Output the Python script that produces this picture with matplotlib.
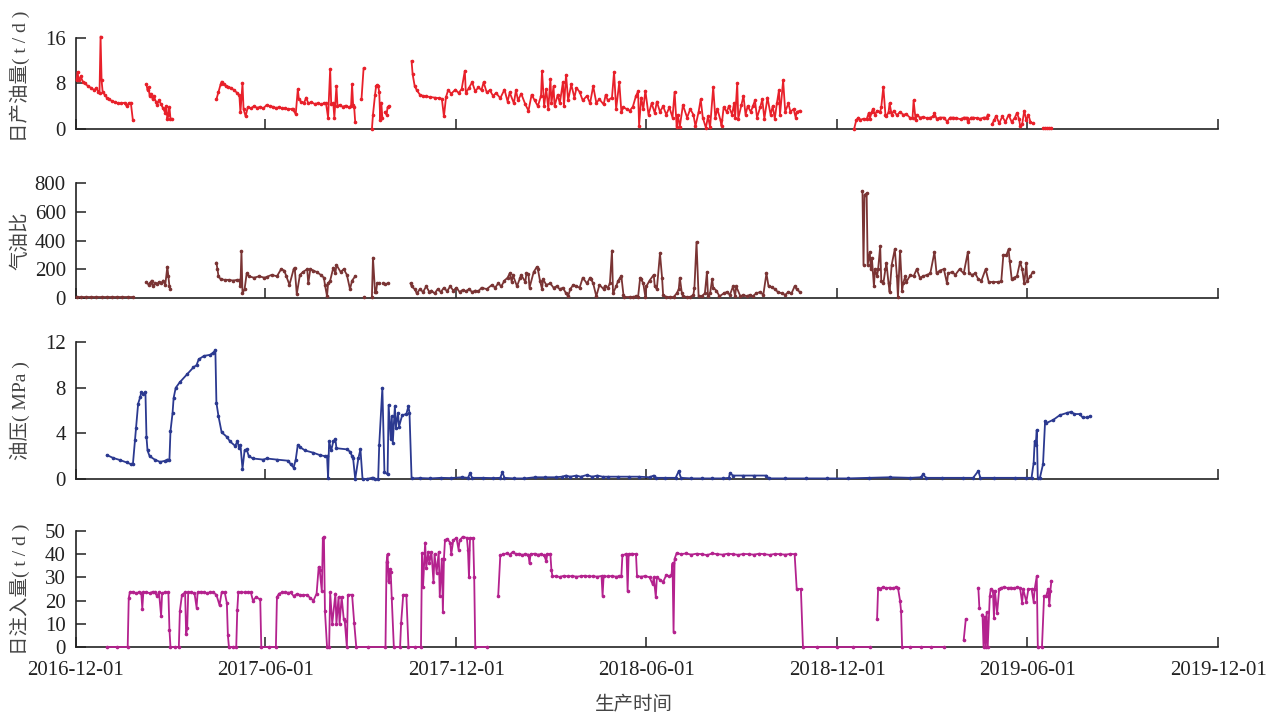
import numpy as np
import matplotlib
matplotlib.use("Agg")
import matplotlib.pyplot as plt
import matplotlib.dates as mdates

nan = np.nan

# day offsets from 2016-12-01, nan = gap in record
oil_day = [1, 2, 3, 5, 7, 9, 12, 15, 18, 20, 22, 23, 24, 25, 26, 28, 30, 32, 35, 38, 41, 44, 47, 49, 51, 53, 55, nan,
           68, 69, 70, 71, 72, 74, 75, 77, 78, 80, 82, 84, 86, 87, 88, 89, 90, 91, 92, nan,
           135, 137, 139, 140, 142, 144, 146, 149, 152, 155, 157, 158, 159, 160, 161, 163, 165, 168, 171, 174, 177, 180,
           183, 186, 189, 192, 195, 198, 201, 204, 207, 208, 211, 213, 214, 216, 219, 221, 223, 226, 229, 232, 235, 238,
           240, 242, 244, 245, 247, 248, 250, 251, 253, 256, 259, 262, 264, 265, 266, 267, 268, nan,
           274, 276, nan,
           284, 285, 287, 288, 289, 290, 291, 292, 293, 294, nan,
           297, 298, 299, 300, nan,
           322, 323, 325, 327, 330, 333, 336, 340, 344, 348, 351, 353, 355, 357, 360, 364, 367, 370, 373, 374, 377,
           380, 383, 386, 389, 391, 394, 397, 400, 403, 407, 411, 414, 416, 420, 422, 424, 427, 431, 434, 437, 440,
           443, 446, 447, 449, 451, 453, 455, 456, 458, 459, 462, 464, 467, 468, 470, 472, 475, 478, 480, 483, 486,
           490, 493, 496, 499, 502, 506, 508, 510, 514, 516, 518, 521, 523, 525, 528, 531, 534, 537, 539, 540, 542,
           544, 546, 549, 552, 555, 557, 560, 563, 566, 569, 572, 574, 576, 577, 579, 582, 586, 589, 592, 594, 597,
           599, 601, 604, 606, 608, 611, 613, 615, 618, 619, 621, 624, 626, 629, 631, 632, 634, 635, 638, 640, 642,
           644, 647, 649, 651, 653, 656, 658, 660, 663, 666, 668, 670, 672, 674, 675, 678, 680, 683, 685, 688, 690,
           691, 694, nan,
           746, 748, 750, 752, 755, 758, 760, 761, 763, 764, 766, 768, 771, 772, 774, 776, 777, 779, 780, 782, 784,
           787, 790, 793, 796, 800, 802, 803, 805, 806, 809, 812, 816, 819, 822, 823, 825, 828, 832, 835, 838, 841,
           844, 848, 851, 854, 855, 858, 860, 864, 867, 870, 873, 874, nan,
           878, 880, 882, 885, 888, 891, 894, 897, 900, 902, 904, 905, 907, 909, 911, 913, 915, 917, nan,
           927, 929, 931, 933, 935]
oil_val = [8.6, 10.0, 8.5, 9.2, 8.3, 8.0, 7.5, 7.2, 6.8, 7.2, 6.5, 6.3, 16.2, 8.5, 6.5, 6.0, 5.5, 5.2, 4.9, 4.7, 4.5, 4.5, 4.6, 4.0, 4.5, 4.6, 1.5, nan,
           7.8, 6.8, 7.3, 5.8, 6.2, 5.2, 5.8, 4.8, 4.2, 5.0, 4.3, 3.6, 2.8, 4.0, 1.8, 2.5, 3.8, 1.8, 1.8, nan,
           5.2, 6.5, 7.8, 8.3, 7.8, 7.6, 7.4, 7.2, 6.8, 6.3, 5.9, 2.9, 5.5, 8.0, 3.5, 2.2, 3.8, 3.6, 4.0, 3.7, 3.9, 3.6,
           4.2, 4.0, 3.9, 3.7, 3.8, 3.6, 3.6, 3.5, 3.5, 3.5, 2.6, 7.0, 5.2, 4.8, 4.6, 5.5, 4.5, 4.7, 4.4, 4.5, 4.3, 4.5,
           4.5, 2.0, 10.5, 4.3, 4.5, 2.0, 7.5, 4.0, 4.2, 3.9, 4.1, 3.8, 4.0, 7.8, 4.2, 3.8, 1.2, nan,
           5.2, 10.6, nan,
           0.0, 2.5, 6.0, 7.5, 7.7, 7.5, 6.5, 1.5, 4.6, 2.0, nan,
           3.0, 2.5, 3.8, 4.0, nan,
           11.9, 9.6, 7.5, 6.8, 6.0, 5.8, 5.7, 5.6, 5.5, 5.4, 5.3, 2.2, 5.6, 6.8, 6.2, 6.9, 6.3, 7.0, 10.2, 6.3, 7.2,
           8.2, 6.6, 7.3, 6.8, 8.2, 6.4, 6.8, 5.8, 6.3, 5.4, 6.9, 4.8, 6.4, 4.5, 6.8, 5.0, 6.2, 4.3, 3.2, 6.0, 5.0,
           4.0, 5.8, 10.2, 4.0, 7.0, 3.5, 8.8, 4.5, 7.5, 4.0, 6.0, 4.5, 8.2, 4.0, 9.5, 5.0, 7.8, 5.5, 7.2, 6.5, 5.0,
           5.8, 4.5, 7.5, 4.6, 5.2, 4.3, 6.0, 5.0, 5.5, 10.0, 3.5, 8.2, 3.0, 3.8, 3.5, 3.2, 3.9, 5.8, 6.6, 0.6, 5.5,
           3.5, 6.7, 2.5, 4.5, 2.8, 4.8, 3.0, 4.0, 2.5, 3.8, 2.0, 6.5, 0.4, 2.5, 0.4, 4.2, 2.0, 3.5, 2.5, 0.5, 3.0,
           5.2, 2.0, 0.2, 2.2, 0.3, 7.3, 2.0, 3.5, 1.5, 0.5, 3.8, 3.0, 4.0, 2.5, 4.5, 2.0, 8.0, 1.8, 4.2, 5.8, 2.5,
           4.0, 3.0, 4.0, 5.0, 2.0, 3.8, 5.2, 1.8, 5.5, 2.5, 4.0, 1.8, 4.5, 6.8, 2.5, 8.5, 3.0, 4.5, 3.0, 3.5, 2.0,
           3.0, 3.2, nan,
           0.0, 1.5, 2.0, 1.6, 1.8, 1.7, 2.8, 1.8, 3.0, 3.5, 2.5, 3.2, 3.0, 3.8, 7.4, 2.5, 2.2, 3.0, 4.5, 2.5, 3.2,
           2.4, 3.0, 2.5, 2.6, 1.9, 2.0, 5.0, 1.5, 2.5, 2.0, 2.1, 1.9, 2.0, 2.2, 2.8, 1.8, 2.0, 2.0, 1.3, 2.0, 2.0,
           1.9, 1.7, 2.0, 2.0, 1.2, 2.0, 2.0, 1.9, 1.8, 2.0, 2.0, 2.5, nan,
           0.8, 1.5, 2.3, 1.0, 2.2, 1.2, 2.5, 1.2, 2.0, 2.8, 1.8, 0.6, 0.8, 3.2, 1.5, 2.5, 1.2, 1.0, nan,
           0.1, 0.1, 0.1, 0.1, 0.1]

gor_day = [1, 5, 10, 15, 20, 25, 30, 35, 40, 45, 50, 55, nan,
           68, 70, 71, 73, 74, 76, 78, 80, 82, 84, 86, 88, 89, 90, 91, nan,
           135, 136, 137, 139, 143, 147, 151, 155, 157, 158, 159, 160, 162, 164, 166, 171, 176, 181, 183, 188, 193,
           197, 200, 202, 205, 209, 210, 212, 215, 218, 222, 223, 225, 228, 231, 235, 238, 239, 241, 242, 244, 247,
           249, 250, 254, 257, 260, 263, 265, 268, nan,
           276, nan,
           284, 285, 287, 288, 289, 291, nan,
           295, 297, 299, nan,
           321, 322, 325, 327, 330, 333, 336, 339, 341, 344, 347, 350, 353, 356, 359, 362, 365, 368, 371, 374, 377,
           380, 383, 386, 389, 394, 399, 402, 405, 408, 411, 414, 416, 418, 419, 423, 426, 427, 431, 432, 434, 435,
           439, 442, 443, 445, 447, 448, 451, 455, 458, 461, 464, 467, 470, 472, 474, 477, 480, 483, 486, 490, 493,
           494, 496, 499, 502, 506, 507, 510, 512, 514, 515, 518, 520, 522, 523, 525, 526, 531, 534, 537, 539, 541,
           542, 544, 546, 547, 550, 554, 555, 557, 560, 562, 563, 566, 570, 573, 576, 578, 579, 581, 582, 586, 589,
           592, 593, 595, 597, 600, 603, 605, 606, 608, 610, 611, 614, 617, 621, 624, 627, 630, 632, 633, 637, 640,
           643, 646, 649, 652, 656, 659, 662, 664, 667, 670, 673, 677, 680, 683, 686, 689, 691, 694, nan,
           754, 755, 756, 758, 759, 761, 762, 763, 765, 766, 768, 769, 771, 772, 774, 776, 777, 779, 780, 782, 785,
           787, 788, 790, 792, 793, 795, 796, 800, 803, 806, 809, 812, 816, 819, 823, 825, 828, 832, 835, 836, 840,
           843, 847, 851, 855, 856, 859, 862, 865, 868, 872, 875, 879, 884, 887, 889, 892, 894, 895, 897, 899, 902,
           905, 907, 909, 911, 912, 915, 917]
gor_val = [5, 5, 5, 5, 5, 5, 5, 5, 5, 5, 5, 5, nan,
           110, 90, 100, 120, 80, 100, 95, 110, 100, 120, 90, 217, 150, 80, 60, nan,
           245, 200, 150, 130, 125, 125, 120, 125, 125, 80, 325, 30, 60, 170, 150, 140, 150, 140, 145, 160, 150,
           200, 190, 150, 90, 200, 210, 25, 160, 180, 200, 100, 200, 190, 180, 160, 140, 90, 10, 100, 120, 210,
           170, 230, 180, 200, 160, 60, 120, 150, nan,
           5, nan,
           5, 280, 40, 40, 100, 100, nan,
           100, 95, 100, nan,
           100, 80, 60, 30, 60, 40, 80, 40, 50, 30, 60, 40, 70, 45, 80, 50, 70, 40, 55, 45, 60,
           40, 50, 45, 70, 60, 90, 70, 100, 80, 120, 140, 170, 110, 160, 80, 140, 160, 110, 170, 165, 70,
           180, 215, 200, 120, 60, 130, 90, 100, 70, 80, 60, 70, 30, 10, 60, 90, 80, 70, 140, 100, 140,
           130, 100, 10, 90, 60, 80, 70, 100, 330, 30, 80, 120, 140, 150, 20, 5, 5, 5, 10, 5, 140,
           130, 100, 5, 80, 120, 160, 80, 60, 310, 140, 20, 5, 5, 5, 30, 60, 140, 30, 10, 5, 5,
           20, 70, 390, 10, 10, 30, 180, 10, 30, 130, 70, 50, 10, 30, 40, 20, 80, 10, 80, 10, 20,
           10, 20, 10, 30, 40, 20, 170, 80, 75, 60, 40, 30, 20, 40, 30, 80, 60, 40, nan,
           745, 230, 720, 730, 230, 320, 200, 280, 80, 200, 150, 200, 360, 120, 100, 200, 240, 100, 40, 230, 340,
           150, 5, 330, 50, 100, 150, 110, 160, 150, 200, 140, 150, 160, 170, 320, 170, 190, 200, 100, 170, 180,
           160, 200, 170, 320, 170, 160, 170, 130, 120, 200, 110, 110, 110, 115, 300, 300, 340, 260, 130, 140, 150,
           250, 200, 100, 240, 120, 150, 180]

pres_day = [30, 36, 43, 49, 53, 55, 57, 58, 60, 62, 63, 65, 67, 68, 69, 71, 76, 81, 86, 88, 90, 91, 93, 94, 96,
            100, 107, 113, 116, 118, 123, 129, 132, 134, 135, 137, 140, 145, 148, 153, 155, 157, 158, 160, 162,
            164, 166, 170, 180, 183, 193, 204, 206, 209, 211, 213, 215, 220, 228, 234, 239, 241, 242, 243, 245,
            247, 249, 250, 260, 263, 265, 266, 268, 271, 273, 275, 279, 284, 285, 287, 290, 291, 294, 296, 299,
            300, 302, 303, 304, 306, 307, 309, 310, 313, 317, 319, 320, 322, 330, 340, 350, 360, 370, 376, 378,
            380, 390, 400, 407, 409, 411, 420, 430, 440, 450, 460, 466, 470, 474, 480, 484, 490, 495, 500, 505,
            510, 520, 530, 540, 550, 554, 556, 565, 575, 578, 580, 590, 600, 610, 620, 626, 627, 630, 640, 650,
            662, 664, 680, 700, 720, 740, 760, 780, 800, 810, 812, 815, 830, 850, 860, 865, 867, 880, 900, 911,
            916, 918, 919, 920, 921, 922, 924, 927, 929, 930, 937, 943, 950, 954, 957, 962, 965, 969, 972]
pres_val = [2.1, 1.85, 1.65, 1.45, 1.3, 1.3, 3.4, 4.5, 6.6, 7.2, 7.6, 7.5, 7.6, 3.7, 2.5, 2.0, 1.7, 1.5, 1.6, 1.7,
            1.7, 4.2, 5.8, 7.1, 8.0, 8.5, 9.2, 9.8, 10.0, 10.5, 10.8, 10.9, 11.1, 11.3, 6.7, 5.5, 4.1, 3.7, 3.3,
            2.9, 3.3, 2.7, 3.0, 0.9, 2.5, 2.6, 2.0, 1.8, 1.7, 1.8, 1.7, 1.6, 1.3, 1.0, 1.7, 3.0, 2.8, 2.5, 2.3,
            2.1, 2.0, 2.0, 0.1, 3.3, 2.5, 3.3, 3.5, 2.7, 2.6, 2.4, 2.0, 1.8, 0.0, 1.8, 2.6, 0.0, 0.0, 0.1, 0.1,
            0.0, 0.0, 3.0, 8.0, 0.6, 0.4, 6.5, 3.5, 5.5, 3.2, 6.4, 4.5, 5.8, 4.6, 5.6, 5.7, 6.4, 5.8, 0.05, 0.08,
            0.05, 0.1, 0.08, 0.15, 0.1, 0.5, 0.1, 0.1, 0.08, 0.1, 0.6, 0.1, 0.05, 0.05, 0.15, 0.15, 0.15, 0.2,
            0.3, 0.2, 0.3, 0.2, 0.35, 0.2, 0.3, 0.2, 0.2, 0.2, 0.2, 0.2, 0.15, 0.3, 0.1, 0.1, 0.1, 0.7, 0.1, 0.05,
            0.05, 0.05, 0.05, 0.1, 0.5, 0.3, 0.3, 0.3, 0.3, 0.05, 0.05, 0.05, 0.05, 0.05, 0.1, 0.15, 0.1, 0.15,
            0.4, 0.1, 0.1, 0.1, 0.1, 0.7, 0.1, 0.1, 0.1, 0.1, 0.1, 1.4, 3.3, 3.0, 4.3, 0.1, 0.1, 1.3, 5.1, 4.9,
            5.2, 5.6, 5.8, 5.9, 5.7, 5.7, 5.4, 5.4, 5.5]

inj_day = [30, 40, 50, 51, 52, 55, 58, 61, 63, 64, 65, 68, 71, 74, 76, 78, 80, 82, 83, 86, 89, 90, 91, 95, 99,
           100, 102, 105, 106, 107, 108, 111, 114, 116, 117, 120, 123, 126, 129, 132, 135, 138, 140, 143, 145,
           146, 147, 151, 154, 155, 156, 159, 162, 165, 168, 170, 173, 177, 178, 185, 192, 193, 195, 198, 201,
           204, 206, 209, 212, 215, 218, 222, 225, 228, 231, 233, 234, 236, 237, 238, 239, 241, 243, 244, 246,
           249, 250, 252, 253, 255, 257, 258, 260, 261, 265, 267, 269, 280, 297, 298, 299, 300, 301, 302, 303,
           305, 311, 312, 314, 317, 319, 325, 331, 332, 333, 335, 336, 338, 339, 341, 343, 344, 346, 348, 349,
           351, 352, 353, 354, 356, 359, 360, 362, 365, 367, 368, 371, 375, 376, 377, 378, 381, 382, 383, 394, nan,
           405, 407, 410, 413, 416, 419, 422, 425, 428, 431, 434, 435, 436, 440, 443, 446, 449, 451, 452, 455,
           456, 457, 460, 464, 468, 472, 476, 480, 484, 488, 492, 496, 500, 504, 505, 506, 510, 514, 518, 521,
           523, 524, 527, 528, 529, 530, 533, 537, 538, 542, 546, 550, 553, 554, 556, 557, 560, 563, 566, 569,
           571, 572, 573, 574, 576, 580, 585, 590, 595, 600, 605, 610, 615, 620, 625, 630, 635, 640, 645, 650,
           655, 660, 665, 670, 675, 680, 685, 689, 691, 695, 697, 710, 730, 745, 761, nan,
           768, 769, 771, 774, 777, 780, 783, 786, 788, 790, 791, 792, 800, 810, 820, 832, nan,
           851, 853, nan,
           865, 866, nan,
           869, 870, 871, 872, 873, 874, 876, 877, 879, 880, 881, 883, 885, 887, 890, 893, 896, 899, 902, 905,
           907, 908, 911, 913, 916, 918, 919, 921, 922, 926, 928, 930, 932, 933, 934, 935]
inj_val = [0, 0, 0, 21, 23.5, 23.8, 23.2, 23.6, 23.4, 16.5, 23.5, 23.6, 23.2, 23.8, 23.5, 22, 23.5, 13.5, 23.2,
           23.6, 23.5, 7.5, 0, 0, 0, 15.5, 22.5, 23.5, 5.5, 8.0, 23.5, 23.6, 23.2, 17, 23.5, 23.8, 23.5, 23.2,
           23.6, 23.5, 22.5, 18, 23.5, 23.5, 19, 5, 0, 0, 0, 16, 23.5, 23.7, 23.5, 23.6, 23.5, 20, 21.5, 20.5, 0,
           0, 0, 21.5, 23.0, 23.5, 23.5, 23.4, 23.5, 22.0, 22.8, 22.5, 22.3, 22.5, 21, 20, 23, 34.5, 33, 24, 47,
           47.5, 15.5, 0, 0, 23.5, 10, 23.0, 10, 21.5, 10, 21.5, 12, 11, 0, 22.5, 22.5, 10.5, 0, 0, 0, 36.5, 40,
           28, 33.5, 32.5, 21, 0, 0, 10.5, 22.5, 22.5, 0, 0, 0, 40.5, 26, 45, 34, 41, 36, 41, 28, 40, 32, 41, 22,
           38, 15, 38, 46, 46.5, 45, 40, 46, 47, 42, 46, 47.5, 47, 42, 30, 47, 47, 30, 0, 0, nan,
           22, 39.5, 40, 40.3, 39.8, 41, 40, 40.2, 39.7, 40, 39.8, 36, 40, 40.2, 39.8, 40, 39.5, 37, 40, 40,
           33, 30.5, 30.5, 30.2, 30.7, 30.4, 30.6, 30.3, 30.5, 30.7, 30.4, 30.5, 30.3, 30.6, 22, 30.5, 30.4,
           30.6, 30.3, 30.5, 30.5, 39.5, 40, 39.8, 24, 40, 40.2, 40, 30.5, 30.3, 30.6, 30, 27, 30, 21.5, 30, 29,
           28, 31, 30.5, 31, 36, 6.5, 38, 40.5, 40, 40.3, 39.8, 40.2, 40, 39.6, 40.3, 40, 39.8, 40.2, 40, 39.7,
           40.1, 40, 39.8, 40.2, 40, 39.7, 40.1, 40, 39.8, 40.1, 40, 25, 25, 0, 0, 0, 0, 0, nan,
           12, 25.5, 25.2, 25.8, 25.3, 25.6, 25.4, 25.7, 25.5, 20, 15.5, 0, 0, 0, 0, 0, nan,
           3, 12, nan,
           25.5, 17, nan,
           14, 0, 13, 0, 15, 0, 22, 25, 24, 12.5, 24, 14.5, 25, 25.5, 25.8, 25.4, 25.6, 25.3, 25.7, 25.5,
           19, 25, 19.5, 25, 25, 19.5, 25, 30.5, 0, 0, 22, 22, 25, 18, 24, 28.5]

x_ticks = ['2016-12-01', '2017-06-01', '2017-12-01', '2018-06-01', '2018-12-01', '2019-06-01', '2019-12-01']

panels = [
    (oil_day, oil_val, '#e8202a', '日产油量( t / d )', [0, 8, 16]),
    (gor_day, gor_val, '#7a3434', '气油比', [0, 200, 400, 600, 800]),
    (pres_day, pres_val, '#2b3990', '油压( MPa )', [0, 4, 8, 12]),
    (inj_day, inj_val, '#b4228e', '日注入量( t / d )', [0, 10, 20, 30, 40, 50]),
]
rects = [
    [0.0595, 0.8196, 0.9006, 0.1277],
    [0.0595, 0.5836, 0.9006, 0.1600],
    [0.0595, 0.3301, 0.9006, 0.1912],
    [0.0595, 0.0951, 0.9006, 0.1623],
]

num_font = ['Liberation Serif', 'Noto Sans CJK SC']
base = mdates.date2num(np.datetime64('2016-12-01'))
tick_pos = [mdates.date2num(np.datetime64(t)) for t in x_ticks]

fig = plt.figure(figsize=(12.69, 7.15), dpi=100)

for i, (d, v, col, lab, yt) in enumerate(panels):
    ax = fig.add_axes(rects[i])
    x = base + np.array(d, dtype=float)
    y = np.array(v, dtype=float)
    ax.plot(x, y, color=col, lw=1.3, marker='o', ms=1.6, mfc=col, mec=col,
            clip_on=False, zorder=3)
    ax.set_xlim(tick_pos[0], tick_pos[-1])
    ax.set_ylim(yt[0], yt[-1])
    ax.set_yticks(yt)
    ax.set_xticks(tick_pos)
    for s in ['top', 'right']:
        ax.spines[s].set_visible(False)
    for s in ['left', 'bottom']:
        ax.spines[s].set_linewidth(1.2)
        ax.spines[s].set_color('#222222')
    ax.tick_params(direction='in', length=7, width=1.1, color='#222222',
                   labelsize=15, labelcolor='#222222', pad=7)
    for t in ax.get_yticklabels():
        t.set_family(num_font)
    if i < 3:
        ax.set_xticklabels([])
    else:
        ax.set_xticklabels(x_ticks)
        ax.tick_params(axis='x', pad=10)
        for t in ax.get_xticklabels():
            t.set_family(num_font)
    yc = rects[i][1] + rects[i][3] / 2
    if i == 0:
        yc += 0.01
    fig.text(20 / 1269, yc, lab, rotation=90, ha='center', va='center',
             fontsize=14, color='#444444', family=num_font)

fig.text(634 / 1269, 1 - 705 / 715, '生产时间', ha='center', va='center',
         fontsize=14, color='#444444', family=num_font)

fig.savefig('out.png', dpi=100)
